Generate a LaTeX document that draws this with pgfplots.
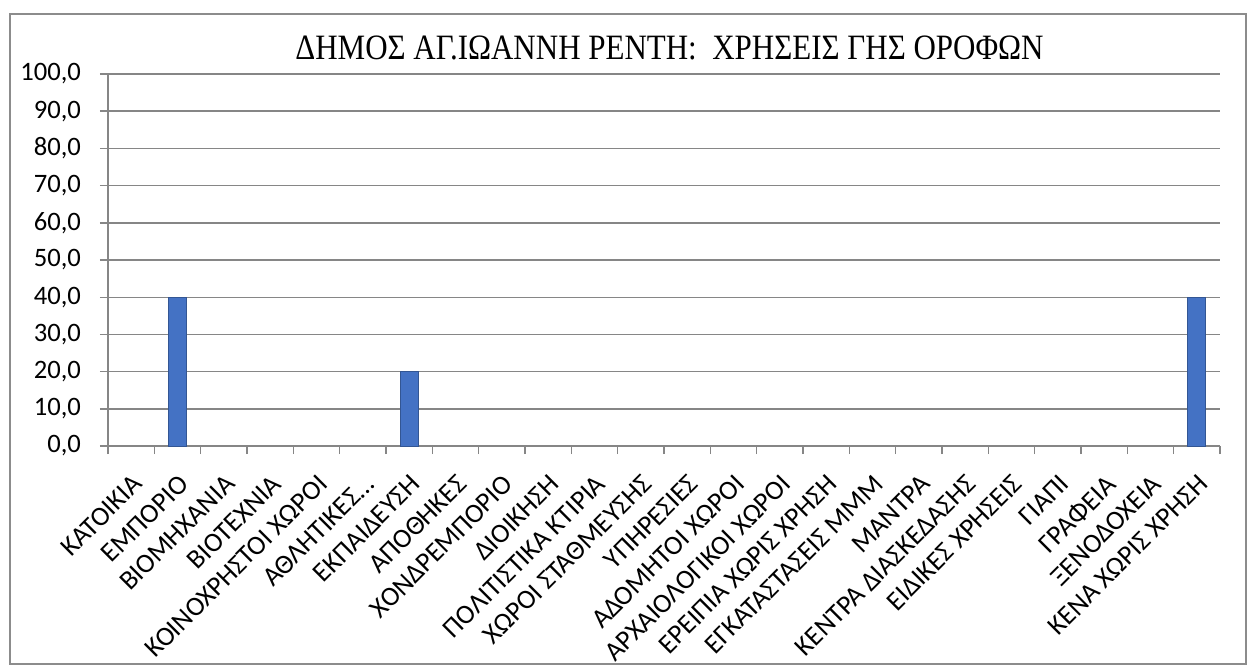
\documentclass[border=0pt]{standalone}
\usepackage{pgfplots}
\pgfplotsset{compat=1.18}
\usepackage{fontspec}
\setmainfont{Carlito}
\newfontfamily\titlefont{Liberation Serif}
\definecolor{barblue}{RGB}{68,114,196}
\definecolor{axgray}{RGB}{134,134,134}
\definecolor{framegray}{RGB}{140,140,140}
\newcommand{\lbl}{\fontsize{13.6}{15}\selectfont}
\newcommand{\ylbl}{\fontsize{13.3}{15}\selectfont}
\begin{document}
\begin{tikzpicture}
\path (-54pt,-111.5pt) rectangle (573pt,223pt);
\begin{axis}[
 at={(0,0)}, anchor=south west,
 scale only axis, width=556pt, height=186pt,
 xmin=-0.5, xmax=23.5, ymin=0, ymax=100,
 ytick={0,10,...,100},
 axis x line*=bottom, axis y line*=left,
 axis line style={-, draw=axgray, line width=0.7pt},
 ymajorgrids, grid style={axgray, line width=0.7pt},
 tick align=outside, major tick length=4pt,
 tick style={axgray, line width=0.7pt},
 xtick={-0.5,0.5,...,23.5}, xticklabels={},
 extra x ticks={0,1,...,23},
 extra x tick labels={{ΚΑΤΟΙΚΙΑ},{ΕΜΠΟΡΙΟ},{ΒΙΟΜΗΧΑΝΙΑ},{ΒΙΟΤΕΧΝΙΑ},{ΚΟΙΝΟΧΡΗΣΤΟΙ ΧΩΡΟΙ},{ΑΘΛΗΤΙΚΕΣ…},{ΕΚΠΑΙΔΕΥΣΗ},{ΑΠΟΘΗΚΕΣ},{ΧΟΝΔΡΕΜΠΟΡΙΟ},{ΔΙΟΙΚΗΣΗ},{ΠΟΛΙΤΙΣΤΙΚΑ ΚΤΙΡΙΑ},{ΧΩΡΟΙ ΣΤΑΘΜΕΥΣΗΣ},{ΥΠΗΡΕΣΙΕΣ},{ΑΔΟΜΗΤΟΙ ΧΩΡΟΙ},{ΑΡΧΑΙΟΛΟΓΙΚΟΙ ΧΩΡΟΙ},{ΕΡΕΙΠΙΑ ΧΩΡΙΣ ΧΡΗΣΗ},{ΕΓΚΑΤΑΣΤΑΣΕΙΣ ΜΜΜ},{ΜΑΝΤΡΑ},{ΚΕΝΤΡΑ ΔΙΑΣΚΕΔΑΣΗΣ},{ΕΙΔΙΚΕΣ ΧΡΗΣΕΙΣ},{ΓΙΑΠΙ},{ΓΡΑΦΕΙΑ},{ΞΕΝΟΔΟΧΕΙΑ},{ΚΕΝΑ ΧΩΡΙΣ ΧΡΗΣΗ}},
 extra x tick style={major tick length=0pt, xticklabel shift=12pt, tick label style={rotate=45, anchor=north east, font=\lbl, inner sep=1pt}},
 yticklabel style={font=\ylbl, xshift=-6pt},
 y tick label style={/pgf/number format/.cd, fixed, fixed zerofill, precision=1, use comma, assume math mode=true},
 clip=false,
]
\addplot[ybar, bar width=9pt, fill=barblue, draw=barblue!75!black] coordinates {(1,40) (6,20) (23,40)};
\node[font=\titlefont\fontsize{15.5}{17}\selectfont] at (axis description cs:0.505,1.07) {\scalebox{1}[1.15]{ΔΗΜΟΣ ΑΓ.ΙΩΑΝΝΗ ΡΕΝΤΗ:\ \ ΧΡΗΣΕΙΣ ΓΗΣ ΟΡΟΦΩΝ}};
\end{axis}
\draw[framegray, line width=1pt] (-49pt,-109pt) rectangle (569pt,216pt);
\end{tikzpicture}
\end{document}
